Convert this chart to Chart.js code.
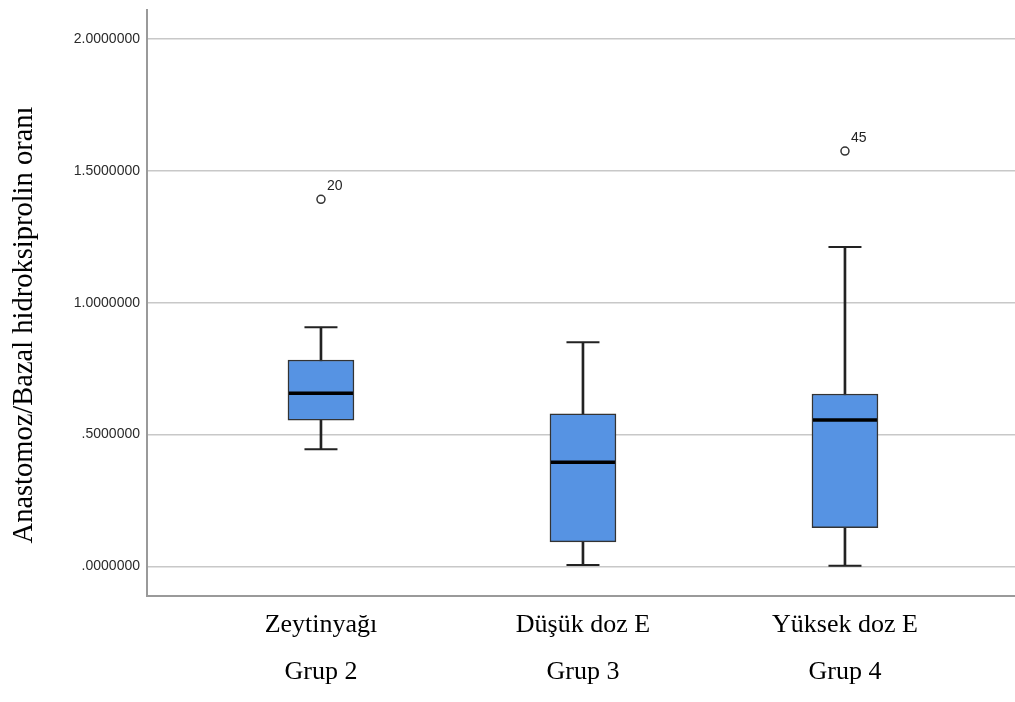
<!DOCTYPE html>
<html>
<head>
<meta charset="utf-8">
<script src="https://cdn.jsdelivr.net/npm/chart.js@4.4.1/dist/chart.umd.min.js"></script>
<style>
  html, body { margin: 0; padding: 0; background: #fff; }
  #wrap { width: 1015px; height: 702px; }
</style>
</head>
<body>
<div id="wrap"><canvas id="myChart" width="1015" height="702"></canvas></div>
<script>
var categories = [['Zeytinyağı', 'Grup 2'], ['Düşük doz E', 'Grup 3'], ['Yüksek doz E', 'Grup 4']];
var whiskerLow = [0.444, 0.006, 0.003];
var q1 = [0.555, 0.093, 0.147];
var median = [0.657, 0.395, 0.555];
var q3 = [0.783, 0.579, 0.654];
var whiskerHigh = [0.907, 0.850, 1.211];
var outlierGroup = [1, 3];
var outlierValue = [1.392, 1.575];
var outlierLabel = ['20', '45'];
var yTicks = [0, 0.5, 1, 1.5, 2];
var yTitle = 'Anastomoz/Bazal hidroksiprolin oranı';

var pos = categories.map(function (c, i) { return i + 1; });

// vertical whisker lines (drawn behind the boxes)
var whiskerData = pos.map(function (x, i) { return { x: x, y: [whiskerLow[i], whiskerHigh[i]] }; });
var boxData = pos.map(function (x, i) { return { x: x, y: [q1[i], q3[i]] }; });
var capData = [];
pos.forEach(function (x, i) {
    capData.push({ x: x, y: whiskerLow[i] });
    capData.push({ x: x, y: whiskerHigh[i] });
});
var medianData = pos.map(function (x, i) { return { x: x, y: median[i] }; });
var outlierData = outlierGroup.map(function (g, i) { return { x: g, y: outlierValue[i] }; });

function noPadding(scale) {
    scale.paddingTop = 0;
    scale.paddingBottom = 0;
    scale.paddingLeft = 0;
    scale.paddingRight = 0;
}

var outlierLabels = {
    id: 'outlierLabels',
    afterDatasetsDraw: function (chart) {
        var meta = chart.getDatasetMeta(4);
        var ctx = chart.ctx;
        ctx.save();
        ctx.font = '14px "Liberation Sans", Arial, sans-serif';
        ctx.fillStyle = '#222';
        ctx.textAlign = 'left';
        ctx.textBaseline = 'alphabetic';
        meta.data.forEach(function (pt, i) {
            ctx.fillText(outlierLabel[i], pt.x + 6, pt.y - 9);
        });
        ctx.restore();
    }
};

var sideTitle = {
    id: 'sideTitle',
    afterDraw: function (chart) {
        var ctx = chart.ctx;
        ctx.save();
        ctx.translate(32, 325);
        ctx.rotate(-Math.PI / 2);
        ctx.font = '28.5px "Liberation Serif", "Times New Roman", serif';
        ctx.fillStyle = '#000';
        ctx.textAlign = 'center';
        ctx.textBaseline = 'alphabetic';
        ctx.fillText(yTitle, 0, 0);
        ctx.restore();
    }
};

var ctx = document.getElementById('myChart');
new Chart(ctx, {
    type: 'bar',
    data: {
        datasets: [{
            data: whiskerData,
            backgroundColor: '#222',
            borderWidth: 0,
            barThickness: 2,
            grouped: false,
            order: 4
        }, {
            data: boxData,
            backgroundColor: '#5693e3',
            borderColor: '#333',
            borderWidth: 1.5,
            borderSkipped: false,
            barThickness: 66,
            grouped: false,
            order: 3
        }, {
            type: 'scatter',
            data: capData,
            pointStyle: 'line',
            radius: 16.5,
            borderColor: '#222',
            borderWidth: 2,
            order: 2
        }, {
            type: 'scatter',
            data: medianData,
            pointStyle: 'line',
            radius: 32,
            borderColor: '#000',
            borderWidth: 3.5,
            order: 1
        }, {
            type: 'scatter',
            data: outlierData,
            pointStyle: 'circle',
            radius: 4,
            backgroundColor: '#fff',
            borderColor: '#333',
            borderWidth: 1.5,
            order: 0
        }]
    },
    options: {
        responsive: false,
        animation: false,
        events: [],
        layout: { autoPadding: false, padding: { top: 10, right: 0, bottom: 0, left: 0 } },
        plugins: {
            legend: { display: false },
            tooltip: { enabled: false }
        },
        scales: {
            x: {
                type: 'linear',
                min: 0.336,
                max: 3.649,
                offset: false,
                afterBuildTicks: function (scale) {
                    scale.ticks = pos.map(function (v) { return { value: v }; });
                },
                afterFit: function (scale) { scale.height = 106; noPadding(scale); },
                ticks: {
                    autoSkip: false,
                    maxRotation: 0,
                    padding: 6,
                    color: '#000',
                    font: { family: '"Liberation Serif", "Times New Roman", serif', size: 26, lineHeight: 1.8 },
                    callback: function (v) { return categories[v - 1]; }
                },
                grid: { drawOnChartArea: false, drawTicks: false },
                border: { display: true, color: '#9a9a9a', width: 2 }
            },
            y: {
                min: -0.112,
                max: 2.11,
                afterBuildTicks: function (scale) {
                    scale.ticks = yTicks.map(function (v) { return { value: v }; });
                },
                afterFit: function (scale) { scale.width = 147; noPadding(scale); },
                ticks: {
                    padding: 7,
                    color: '#2a2a2a',
                    font: { family: '"Liberation Sans", Arial, sans-serif', size: 14 },
                    callback: function (v) {
                        var s = v.toFixed(7);
                        return v < 1 ? s.slice(1) : s;
                    }
                },
                grid: { color: '#c8c8c8', lineWidth: 1.5, drawTicks: false },
                border: { display: true, color: '#9a9a9a', width: 2 }
            }
        }
    },
    plugins: [outlierLabels, sideTitle]
});
</script>
</body>
</html>
